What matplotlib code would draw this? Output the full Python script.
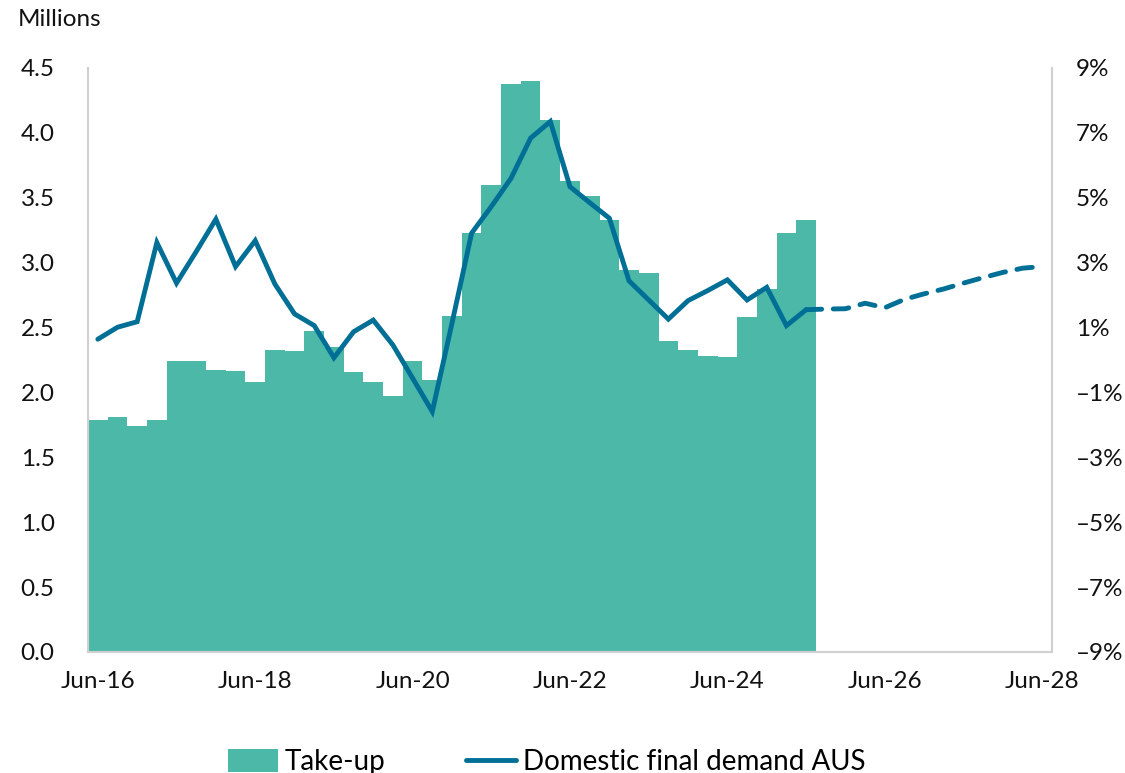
import matplotlib
matplotlib.use("Agg")
import matplotlib.pyplot as plt
from matplotlib.patches import Patch
from matplotlib.lines import Line2D

plt.rcParams['font.family'] = ['Lato', 'DejaVu Sans']

# Take-up (millions), quarterly Jun-16 .. Jun-25
take_up = [1.79, 1.81, 1.74, 1.79, 2.24, 2.24, 2.17, 2.165, 2.08, 2.33,
           2.32, 2.47, 2.35, 2.16, 2.08, 1.97, 2.245, 2.095, 2.59, 3.225,
           3.60, 4.38, 4.40, 4.10, 3.63, 3.51, 3.33, 2.94, 2.92, 2.40,
           2.33, 2.28, 2.27, 2.58, 2.80, 3.23, 3.33]

# Domestic final demand AUS (% y/y), actual Jun-16 .. Jun-25
dfd_actual = [0.64, 1.01, 1.18, 3.62, 2.37, 3.34, 4.34, 2.88, 3.68, 2.34,
              1.42, 1.06, 0.07, 0.87, 1.23, 0.46, -0.56, -1.59, 1.13, 3.91,
              4.73, 5.60, 6.84, 7.35, 5.34, 4.85, 4.37, 2.44, 1.85, 1.26,
              1.83, 2.14, 2.47, 1.85, 2.24, 1.06, 1.55]
# Forecast Jun-25 .. Jun-28
dfd_forecast = [1.55, 1.57, 1.58, 1.75, 1.61, 1.87, 2.04, 2.19, 2.37,
                2.54, 2.70, 2.83, 2.88]

n_quarters = 49  # Jun-16 .. Jun-28
xtick_labels = ['Jun-16', 'Jun-18', 'Jun-20', 'Jun-22', 'Jun-24', 'Jun-26', 'Jun-28']
left_ticks = [0.0, 0.5, 1.0, 1.5, 2.0, 2.5, 3.0, 3.5, 4.0, 4.5]
right_ticks = [-9, -7, -5, -3, -1, 1, 3, 5, 7, 9]

BAR = '#4cb8a8'
LINE = '#006f96'
SPINE = '#d0d0d0'
FS = 17.5
LFS = 20

fig = plt.figure(figsize=(11.25, 7.73), dpi=100)
ax = fig.add_axes([88/1125, 1-652/773, (1052-88)/1125, (652-68)/773])
ax2 = ax.twinx()

x_bars = list(range(len(take_up)))
ax.bar(x_bars, take_up, width=1.0, color=BAR, linewidth=0, zorder=1)
ax.set_ylim(0, 4.5)
ax.set_xlim(-0.5, n_quarters - 0.5)
ax.set_yticks(left_ticks)
ax.set_yticklabels([f"{v:.1f}" for v in left_ticks])
ax.set_xticks(list(range(0, n_quarters, 8)))
ax.set_xticklabels(xtick_labels)

x_act = list(range(len(dfd_actual)))
x_fc = list(range(len(dfd_actual) - 1, len(dfd_actual) - 1 + len(dfd_forecast)))
ax2.plot(x_act, dfd_actual, color=LINE, lw=3.5, solid_joinstyle='miter',
         solid_capstyle='round', zorder=3)
ax2.plot(x_fc, dfd_forecast, color=LINE, lw=3.5, dashes=(3.2, 2.4),
         dash_capstyle='round', zorder=3)
ax2.set_ylim(-9, 9)
ax2.set_yticks(right_ticks)
ax2.set_yticklabels([("\u2013" if v < 0 else "") + f"{abs(v)}%" for v in right_ticks])

for a in (ax, ax2):
    a.tick_params(length=0, labelsize=FS, colors='#111111')
    for s in a.spines.values():
        s.set_visible(False)
ax.tick_params(axis='y', pad=24)
ax.tick_params(axis='x', pad=14)
ax2.tick_params(axis='y', pad=17)
ax.spines['left'].set_visible(True)
ax.spines['left'].set_color(SPINE)
ax.spines['left'].set_linewidth(1.5)
ax.spines['bottom'].set_visible(True)
ax.spines['bottom'].set_color(SPINE)
ax.spines['bottom'].set_linewidth(1.5)
ax2.spines['right'].set_visible(True)
ax2.spines['right'].set_color(SPINE)
ax2.spines['right'].set_linewidth(1.5)
ax.set_zorder(1)
ax2.set_zorder(2)
ax.patch.set_visible(False)

fig.text(18/1125, 1-20/773, 'Millions', fontsize=FS, ha='left', va='center', color='#111111')

handles = [Patch(facecolor=BAR, edgecolor='none', label='Take-up'),
           Line2D([0], [0], color=LINE, lw=3.5, solid_capstyle='round',
                  label='Domestic final demand AUS')]
fig.legend(handles=handles, loc='center', bbox_to_anchor=(547/1125, 1-762/773),
           ncol=2, frameon=False, fontsize=LFS, handlelength=1.8,
           handletextpad=0.25, columnspacing=2.9, handleheight=0.9)

fig.savefig('out.png', dpi=100)
